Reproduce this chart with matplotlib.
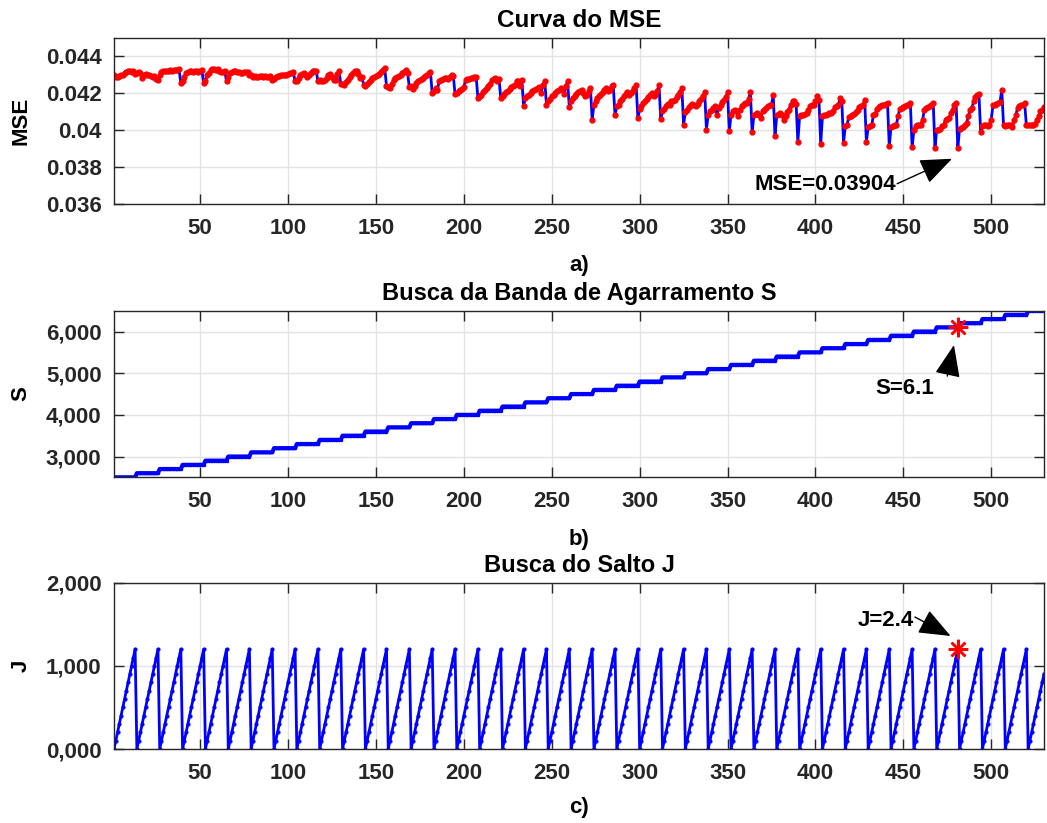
import numpy as np
import matplotlib

matplotlib.use("Agg")
import matplotlib.pyplot as plt

plt.rcParams["font.family"] = ["Liberation Sans", "DejaVu Sans"]
plt.rcParams["font.weight"] = "bold"
plt.rcParams["axes.labelweight"] = "bold"

# grid search levels (S outer loop, J inner loop)
J_levels = [0, 100, 200, 300, 400, 500, 600, 700, 800, 900, 1000, 1100, 1200]
S_levels = [2500, 2600, 2700, 2800, 2900, 3000, 3100, 3200, 3300, 3400,
            3500, 3600, 3700, 3800, 3900, 4000, 4100, 4200, 4300, 4400,
            4500, 4600, 4700, 4800, 4900, 5000, 5100, 5200, 5300, 5400,
            5500, 5600, 5700, 5800, 5900, 6000, 6100, 6200, 6300, 6400, 6500]

# MSE per S level (units of 1e-5)
mse_rows = [
    [4301, 4290, 4288, 4292, 4297, 4300, 4310, 4316, 4319, 4320, 4318, 4322, 4305],
    [4312, 4314, 4310, 4283, 4300, 4306, 4302, 4298, 4296, 4290, 4295, 4280, 4270],
    [4300, 4316, 4320, 4322, 4321, 4323, 4325, 4322, 4326, 4327, 4328, 4330, 4256],
    [4266, 4290, 4310, 4318, 4320, 4322, 4318, 4320, 4322, 4318, 4322, 4324, 4256],
    [4268, 4300, 4312, 4326, 4330, 4332, 4328, 4330, 4322, 4318, 4316, 4320, 4265],
    [4290, 4312, 4318, 4322, 4320, 4316, 4318, 4312, 4310, 4314, 4316, 4318, 4297],
    [4298, 4288, 4292, 4286, 4290, 4294, 4296, 4290, 4294, 4288, 4286, 4292, 4275],
    [4280, 4290, 4296, 4294, 4298, 4300, 4302, 4298, 4305, 4310, 4312, 4315, 4265],
    [4268, 4285, 4300, 4305, 4310, 4300, 4287, 4300, 4312, 4319, 4320, 4323, 4265],
    [4270, 4266, 4268, 4270, 4283, 4300, 4305, 4290, 4272, 4270, 4305, 4320, 4252],
    [4250, 4244, 4262, 4275, 4288, 4297, 4310, 4319, 4323, 4305, 4282, 4288, 4248],
    [4238, 4250, 4262, 4275, 4283, 4288, 4292, 4298, 4305, 4315, 4325, 4337, 4240],
    [4236, 4229, 4250, 4272, 4283, 4288, 4292, 4300, 4312, 4318, 4328, 4310, 4232],
    [4238, 4222, 4240, 4255, 4265, 4272, 4280, 4283, 4292, 4300, 4310, 4316, 4200],
    [4211, 4227, 4220, 4268, 4275, 4280, 4283, 4285, 4280, 4290, 4300, 4296, 4195],
    [4200, 4212, 4220, 4226, 4235, 4272, 4276, 4280, 4282, 4284, 4286, 4290, 4175],
    [4184, 4193, 4207, 4220, 4229, 4238, 4250, 4274, 4279, 4283, 4265, 4280, 4175],
    [4184, 4197, 4207, 4215, 4225, 4233, 4238, 4247, 4265, 4269, 4238, 4274, 4130],
    [4175, 4184, 4193, 4202, 4211, 4220, 4225, 4229, 4232, 4202, 4247, 4269, 4139],
    [4157, 4171, 4184, 4193, 4202, 4211, 4220, 4229, 4226, 4195, 4238, 4265, 4125],
    [4157, 4175, 4184, 4197, 4207, 4215, 4220, 4202, 4184, 4193, 4211, 4229, 4058],
    [4139, 4157, 4175, 4184, 4197, 4207, 4220, 4229, 4211, 4220, 4238, 4243, 4081],
    [4130, 4139, 4157, 4171, 4184, 4197, 4207, 4193, 4202, 4215, 4229, 4243, 4067],
    [4117, 4130, 4148, 4161, 4171, 4179, 4189, 4202, 4184, 4193, 4211, 4247, 4063],
    [4103, 4117, 4130, 4143, 4139, 4157, 4161, 4166, 4179, 4193, 4207, 4229, 4031],
    [4099, 4112, 4125, 4135, 4143, 4139, 4130, 4143, 4157, 4171, 4184, 4207, 4004],
    [4085, 4103, 4112, 4121, 4130, 4085, 4121, 4139, 4153, 4166, 4179, 4207, 3995],
    [4085, 4103, 4112, 4107, 4076, 4112, 4130, 4139, 4148, 4148, 4171, 4206, 3990],
    [4081, 4089, 4094, 4085, 4067, 4103, 4112, 4121, 4130, 4135, 4139, 4189, 3968],
    [4081, 4089, 4094, 4085, 4058, 4076, 4099, 4112, 4139, 4157, 4161, 4143, 3937],
    [4076, 4081, 4085, 4089, 4094, 4112, 4130, 4135, 4139, 4157, 4184, 4166, 3927],
    [4076, 4081, 4085, 4089, 4094, 4094, 4103, 4125, 4130, 4135, 4175, 4157, 3932],
    [4022, 4031, 4071, 4076, 4085, 4089, 4099, 4112, 4125, 4130, 4135, 4162, 3937],
    [4017, 4022, 4027, 4081, 4089, 4117, 4125, 4130, 4135, 4139, 4143, 4148, 3914],
    [4017, 4022, 4026, 4027, 4076, 4117, 4121, 4125, 4130, 4135, 4139, 4148, 3909],
    [3999, 4022, 4027, 4027, 4031, 4058, 4112, 4121, 4125, 4130, 4139, 4148, 3906],
    [4004, 4004, 4009, 4022, 4027, 4058, 4063, 4067, 4094, 4112, 4139, 4148, 3904],
    [4009, 4013, 4017, 4027, 4040, 4076, 4112, 4121, 4157, 4179, 4189, 4197, 3990],
    [4022, 4027, 4031, 4022, 4031, 4058, 4135, 4139, 4143, 4148, 4153, 4220, 4027],
    [4022, 4027, 4027, 4031, 4017, 4053, 4081, 4121, 4130, 4135, 4139, 4148, 4027],
    [4027, 4031, 4027, 4031, 4035, 4058, 4076, 4103, 4112, 4125],
]

mse_ticks = [0.036, 0.038, 0.04, 0.042, 0.044]
mse_ticklabels = ["0.036", "0.038", "0.04", "0.042", "0.044"]
s_ticks = [3000, 4000, 5000, 6000]
s_ticklabels = ["3,000", "4,000", "5,000", "6,000"]
j_ticks = [0, 1000, 2000]
j_ticklabels = ["0,000", "1,000", "2,000"]
x_ticks = [50, 100, 150, 200, 250, 300, 350, 400, 450, 500]

best_iter = 481
best_mse = 0.03904

mse = np.concatenate([np.array(r) for r in mse_rows]) * 1e-5
n = len(mse)
it = np.arange(1, n + 1)
S = np.repeat(S_levels, len(J_levels))[:n]
J = np.tile(J_levels, len(S_levels))[:n]

DARK = "#262626"
BLUE = "#0000ff"
RED = "#ff0000"


def style_axes(ax):
    ax.grid(True, color="#e3e3e3", lw=1)
    ax.set_axisbelow(True)
    ax.tick_params(direction="in", top=True, right=True, length=7, width=1,
                   colors=DARK, labelsize=16)
    ax.tick_params(axis="x", pad=10)
    ax.tick_params(axis="y", pad=9)
    for sp in ax.spines.values():
        sp.set_color(DARK)
        sp.set_linewidth(1)
    ax.set_xlim(1, n)
    ax.set_xticks(x_ticks)
    ax.yaxis.set_label_coords(-0.089, 0.5)


arrow = dict(arrowstyle="-|>,head_length=1.0,head_width=0.4", color="black",
             lw=1, mutation_scale=20, shrinkA=0, shrinkB=0)

fig = plt.figure(figsize=(10.47, 8.23), dpi=100)

# a) MSE curve
ax1 = fig.add_axes([0.1089, 0.7521, 0.8882, 0.2017])
ax1.plot(it, mse, color=BLUE, lw=2, marker="o", ms=3.5, mfc=RED, mec=RED)
ax1.set_ylim(0.036, 0.045)
ax1.set_yticks(mse_ticks)
ax1.set_yticklabels(mse_ticklabels)
style_axes(ax1)
ax1.set_ylabel("MSE", fontsize=16, fontweight="bold", color="black")
ax1.set_title("Curva do MSE", fontsize=17.5, fontweight="bold", pad=8)
ax1.annotate("", xy=(477.7, 0.038455), xytext=(446.5, 0.0371), arrowprops=arrow)
ax1.text(445.8, 0.03705, "MSE=0.03904", fontsize=16, ha="right", va="center")

# b) S search
ax2 = fig.add_axes([0.1089, 0.42, 0.8882, 0.2025])
ax2.plot(it, S, color=BLUE, lw=3, marker=".", ms=3)
ax2.plot([best_iter], [S[best_iter - 1]], marker=(8, 2, 0), color=RED,
         ms=14, mew=1.8, ls="none")
ax2.set_ylim(2500, 6500)
ax2.set_yticks(s_ticks)
ax2.set_yticklabels(s_ticklabels)
style_axes(ax2)
ax2.set_ylabel("S", fontsize=16, fontweight="bold", color="black")
ax2.set_title("Busca da Banda de Agarramento S", fontsize=17, fontweight="bold", pad=8)
ax2.annotate("", xy=(478.8, 5676), xytext=(475.0, 4930), arrowprops=arrow)
ax2.text(451, 4644, "S=6.1", fontsize=16, ha="center", va="center")

# c) J search
ax3 = fig.add_axes([0.1089, 0.0899, 0.8882, 0.2021])
ax3.plot(it, J, color=BLUE, lw=2, marker=".", ms=4)
ax3.plot([best_iter], [J[best_iter - 1]], marker=(8, 2, 0), color=RED,
         ms=14, mew=1.8, ls="none")
ax3.set_ylim(0, 2000)
ax3.set_yticks(j_ticks)
ax3.set_yticklabels(j_ticklabels)
style_axes(ax3)
ax3.set_ylabel("J", fontsize=16, fontweight="bold", color="black")
ax3.set_title("Busca do Salto J", fontsize=17, fontweight="bold", pad=8)
ax3.annotate("", xy=(476.9, 1359), xytext=(456.6, 1587), arrowprops=arrow)
ax3.text(456.0, 1545, "J=2.4", fontsize=16, ha="right", va="center")

fig.text(0.553, 1 - 266 / 823, "a)", fontsize=16, ha="center", va="center")
fig.text(0.553, 1 - 540 / 823, "b)", fontsize=16, ha="center", va="center")
fig.text(0.553, 1 - 808 / 823, "c)", fontsize=16, ha="center", va="center")

fig.savefig("out.png", dpi=100)
plt.close(fig)
